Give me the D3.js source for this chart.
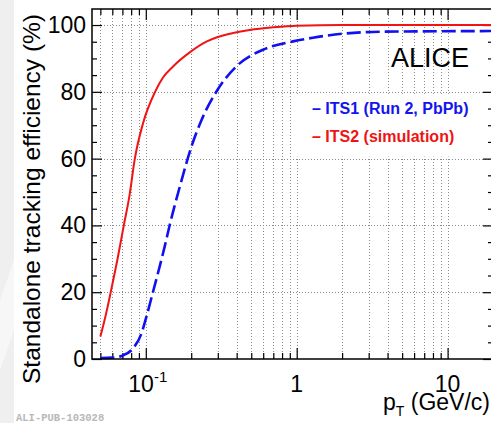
<!DOCTYPE html>
<html>
<head>
<meta charset="utf-8">
<script src="https://cdn.jsdelivr.net/npm/d3@7"></script>
<style>
  body { margin: 0; background: #fff; }
  svg { display: block; }
</style>
</head>
<body>
<svg id="chart"></svg>
<script>
// ITS2 (simulation) - solid red
const its2Pt  = [0.05, 0.0543, 0.0586, 0.065, 0.0715, 0.078, 0.0846, 0.0959, 0.1152, 0.13, 0.1516, 0.1955, 0.252, 0.3, 0.379, 0.488, 0.7, 1, 2, 5, 20]
const its2Eff = [6.7, 13.2, 20.1, 30.0, 40.0, 49.0, 60.0, 70.6, 80.0, 84.3, 87.6, 91.8, 95.0, 96.4, 97.6, 98.5, 99.3, 99.8, 100, 100, 100]

// ITS1 (Run 2, PbPb) - dashed blue
const its1Pt  = [0.05, 0.06, 0.069, 0.0824, 0.0937, 0.1, 0.1118, 0.1336, 0.1442, 0.168, 0.2007, 0.2338, 0.294, 0.398, 0.598, 0.946, 1.28, 2.13, 3.56, 20]
const its1Eff = [0.3, 0.4, 0.9, 3.2, 7.7, 12.0, 20.2, 33.8, 40.2, 51.6, 63.6, 71.5, 80.1, 87.6, 92.6, 95.1, 96.2, 97.5, 98.0, 98.2]

const yMajor = [0, 20, 40, 60, 80, 100]
const xMajor = [0.1, 1, 10]
const legendLabels = ["\u2013 ITS1 (Run 2, PbPb)", "\u2013 ITS2 (simulation)"]

const W = 491, H = 423
// frame edges (window.top is reserved, so prefixed names)
const fLeft = 92, fRight = 493, fTop = 9, fBottom = 359

var svg = d3.select('#chart')
    .attr('width', W)
    .attr('height', H)

// slide background strip on the left
svg.append('rect').attr('x', 0).attr('y', 0).attr('width', 14).attr('height', H).attr('fill', '#efefef')
svg.append('path').attr('d', 'M0,300 L14,260 L14,330 L0,370 Z').attr('fill', '#f7f7f7')

var x = d3.scaleLog().domain([0.044, 20]).range([fLeft, fRight])
var y = d3.scaleLinear().domain([0, 104.8]).range([fBottom, fTop])

// minor x values: 2..9 x each decade inside the domain
var xMinor = []
;[0.01, 0.1, 1, 10].forEach(dec => {
    for (let k = 2; k <= 9; k++) {
        let v = +(dec * k).toPrecision(3)
        if (v >= 0.05 && v < 20) xMinor.push(v)
    }
})
var yMinor = d3.range(5, 105, 5).filter(v => v % 20 !== 0)

// grid
var grid = svg.append('g').attr('stroke', '#8a8a8a').attr('stroke-width', 1).attr('stroke-dasharray', '1,2')
grid.selectAll('.vg').data(xMinor.concat(xMajor)).enter().append('line')
    .attr('x1', d => Math.round(x(d)) + 0.5).attr('x2', d => Math.round(x(d)) + 0.5)
    .attr('y1', fTop).attr('y2', fBottom)
grid.selectAll('.hg').data(yMajor.slice(1)).enter().append('line')
    .attr('x1', fLeft).attr('x2', fRight)
    .attr('y1', d => Math.round(y(d)) + 0.5).attr('y2', d => Math.round(y(d)) + 0.5)

// legend box (white pave hiding the grid)
svg.append('rect')
    .attr('x', x(0.93)).attr('y', y(79.4))
    .attr('width', fRight - x(0.93)).attr('height', y(60.6) - y(79.4))
    .attr('fill', '#fff')

// axes, ticks pointing inward
function tickAxis(axis, vals, size, tx, ty) {
    var g = svg.append('g')
        .attr('transform', `translate(${tx},${ty})`)
        .call(axis.tickValues(vals).tickSize(size).tickFormat(''))
    g.select('.domain').remove()
    g.selectAll('line').attr('stroke', '#000').attr('stroke-width', 1.2)
    return g
}
tickAxis(d3.axisBottom(x), xMinor, -6, 0, fBottom)
tickAxis(d3.axisBottom(x), xMajor, -11, 0, fBottom)
tickAxis(d3.axisTop(x), xMinor, -6, 0, fTop)
tickAxis(d3.axisTop(x), xMajor, -11, 0, fTop)
tickAxis(d3.axisLeft(y), yMinor, -5, fLeft, 0)
tickAxis(d3.axisLeft(y), yMajor, -10, fLeft, 0)
tickAxis(d3.axisRight(y), yMinor, -5, fRight, 0)
tickAxis(d3.axisRight(y), yMajor, -10, fRight, 0)

// y tick labels
svg.append('g').selectAll('text').data(yMajor).enter().append('text')
    .attr('x', fLeft - 6).attr('y', d => y(d)).attr('dy', '0.35em')
    .attr('text-anchor', 'end')
    .style('font-family', '"Liberation Sans", Arial, sans-serif').style('font-size', '23px')
    .text(d => d)

// x tick labels
var xl = svg.append('g')
    .style('font-family', '"Liberation Sans", Arial, sans-serif').style('font-size', '23px')
var t01 = xl.append('text').attr('x', x(0.1) + 2).attr('y', 392).attr('text-anchor', 'middle')
t01.append('tspan').text('10')
t01.append('tspan').attr('dy', -10).style('font-size', '15px').text('-1')
xl.append('text').attr('x', x(1)).attr('y', 392).attr('text-anchor', 'middle').text('1')
xl.append('text').attr('x', x(10)).attr('y', 392).attr('text-anchor', 'middle').text('10')

// curves
var line = d3.line().x(d => x(d[0])).y(d => y(d[1])).curve(d3.curveMonotoneX)

svg.append('path')
    .attr('d', line(its1Pt.map((p, i) => [p, its1Eff[i]])))
    .attr('fill', 'none').attr('stroke', '#1010f0').attr('stroke-width', 2.6)
    .attr('stroke-dasharray', '14,5')

svg.append('path')
    .attr('d', line(its2Pt.map((p, i) => [p, its2Eff[i]])))
    .attr('fill', 'none').attr('stroke', '#f01414').attr('stroke-width', 2)

// frame
svg.append('rect')
    .attr('x', fLeft).attr('y', fTop).attr('width', fRight - fLeft).attr('height', fBottom - fTop)
    .attr('fill', 'none').attr('stroke', '#000').attr('stroke-width', 1.5)

// titles
svg.append('text')
    .attr('transform', `translate(40,${(fTop + 385) / 2 + 2}) rotate(-90)`)
    .attr('text-anchor', 'middle')
    .style('font-family', '"Liberation Sans", Arial, sans-serif').style('font-size', '24.5px')
    .text('Standalone tracking efficiency (%)')

var xt = svg.append('text').attr('x', 490).attr('y', 410).attr('text-anchor', 'end')
    .style('font-family', '"Liberation Sans", Arial, sans-serif').style('font-size', '23px')
xt.append('tspan').text('p')
xt.append('tspan').attr('dy', 6).style('font-size', '14px').text('T')
xt.append('tspan').attr('dy', -6).text(' (GeV/c)')

svg.append('text')
    .attr('x', 391).attr('y', 67)
    .style('font-family', '"Liberation Sans", Arial, sans-serif').style('font-size', '27px')
    .text('ALICE')

// legend
svg.append('g').selectAll('text').data(legendLabels).enter().append('text')
    .attr('x', 312).attr('y', (d, i) => 114 + i * 27.5)
    .attr('fill', (d, i) => i === 0 ? '#1414ee' : '#ee1414')
    .style('font-family', '"Liberation Sans", Arial, sans-serif').style('font-size', '16px').style('font-weight', 'bold')
    .text(d => d)

svg.append('text')
    .attr('x', 16).attr('y', 421)
    .attr('fill', '#b8b8b8')
    .style('font-family', '"Liberation Mono", monospace').style('font-size', '10.5px').style('font-weight', 'bold')
    .text('ALI-PUB-103028')
</script>
</body>
</html>
